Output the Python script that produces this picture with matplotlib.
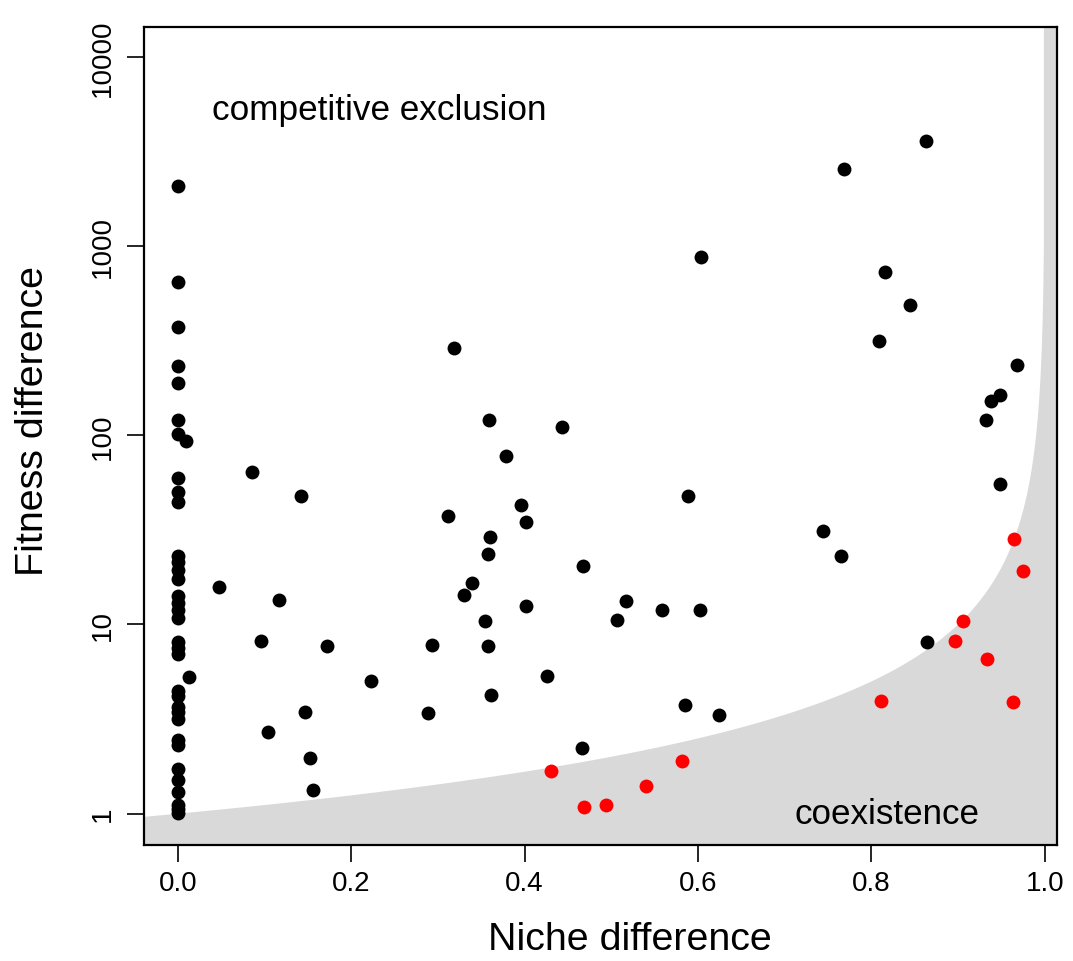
import numpy as np
import matplotlib
matplotlib.use("Agg")
from matplotlib import pyplot as plt

plt.rcParams['font.family'] = ['Liberation Sans', 'DejaVu Sans']

# 竞争排斥区（黑点）
niche_excl = [0, 0, 0, 0, 0, 0, 0, 0.009, 0, 0, 0,
              0, 0, 0, 0, 0, 0, 0, 0, 0, 0, 0, 0.013,
              0, 0, 0, 0, 0, 0, 0, 0, 0, 0, 0, 0, 0,
              0.048, 0.086, 0.0965, 0.1042, 0.1165, 0.142, 0.1466, 0.153, 0.1558, 0.172,
              0.2227, 0.2889, 0.293, 0.3116, 0.319, 0.3296, 0.3397, 0.354, 0.358, 0.358,
              0.359, 0.360, 0.3608, 0.378, 0.396, 0.402, 0.402, 0.4258, 0.443, 0.4662,
              0.4677, 0.507, 0.5166, 0.558, 0.5855, 0.589, 0.6028, 0.6036, 0.6243,
              0.7444, 0.7655, 0.769, 0.809, 0.816, 0.845, 0.863, 0.8636,
              0.9317, 0.9375, 0.948, 0.9487, 0.968]
fitness_excl = [2070, 644, 372, 233, 188, 121, 101.6, 93.6, 59.2, 50.3, 44.6,
                23.0, 21.4, 19.4, 17.4, 14.1, 13.0, 11.9, 10.8, 8.08, 7.51, 6.98, 5.26,
                4.45, 4.19, 3.66, 3.45, 3.17, 2.45, 2.31, 1.72, 1.51, 1.30, 1.11, 1.06, 1.01,
                15.8, 64.2, 8.15, 2.71, 13.5, 48, 3.44, 1.96, 1.34, 7.67,
                5.05, 3.39, 7.82, 37.3, 290, 14.4, 16.6, 10.4, 23.5, 7.70,
                121, 29.1, 4.24, 77.4, 42.8, 34.9, 12.6, 5.32, 110.8, 2.22,
                20.4, 10.6, 13.3, 11.9, 3.76, 47.5, 11.9, 873, 3.31,
                31.3, 23.1, 2553, 315, 729, 488, 3585, 8.06,
                120.7, 151, 164, 55.2, 235]

# 共存区（红点）
niche_coex = [0.430, 0.4685, 0.4935, 0.5405, 0.5812, 0.8113, 0.8959, 0.9055,
              0.9336, 0.9628, 0.9648, 0.975]
fitness_coex = [1.686, 1.084, 1.114, 1.397, 1.91, 3.94, 8.22, 10.4,
                6.6, 3.90, 28.4, 19.2]

fig = plt.figure(figsize=(10.73, 9.62), dpi=100)
ax = fig.add_axes([0.1342, 0.1209, 0.985 - 0.1342, 0.9709 - 0.1209])

# 共存边界 fitness = 1/(1-niche)
xs = np.linspace(-0.1, 0.999, 2000)
poly_x = list(xs) + [0.999, 1.2, 1.2, -0.1]
poly_y = list(1 / (1 - xs)) + [1e6, 1e6, 1e-3, 1e-3]
ax.fill(poly_x, poly_y, color="#d9d9d9", lw=0, zorder=1)

ax.scatter(niche_excl, fitness_excl, s=100, c="black", lw=0, zorder=3)
ax.scatter(niche_coex, fitness_coex, s=100, c="red", lw=0, zorder=3)

ax.set_yscale("log")
ax.set_xlim(-0.039, 1.014)
ax.set_ylim(10 ** -0.1638, 10 ** 4.158)
ax.set_xticks([0, 0.2, 0.4, 0.6, 0.8, 1.0])
ax.set_xticklabels(["0.0", "0.2", "0.4", "0.6", "0.8", "1.0"], fontsize=20)
ax.set_yticks([1, 10, 100, 1000, 10000])
ax.set_yticklabels(["1", "10", "100", "1000", "10000"], rotation=90, va="center",
                   fontsize=20)
ax.minorticks_off()
ax.tick_params(axis="both", length=12, width=1.2)
ax.tick_params(axis="x", pad=6.5)
ax.tick_params(axis="y", pad=8)

for sp in ax.spines.values():
    sp.set_linewidth(1.6)
    sp.set_zorder(5)

ax.set_xlabel("Niche difference", fontsize=28.4, va="center")
ax.xaxis.set_label_coords(0.5318, -0.1153)
ax.set_ylabel("Fitness difference", fontsize=28.4, va="center")
ax.yaxis.set_label_coords(-0.1216, 0.5188)

ax.text(0.232, 5300, "competitive exclusion", fontsize=25.3, ha="center", va="center")
ax.text(0.8175, 1.0, "coexistence", fontsize=25.2, ha="center", va="center")

plt.savefig("out.png", dpi=100)
